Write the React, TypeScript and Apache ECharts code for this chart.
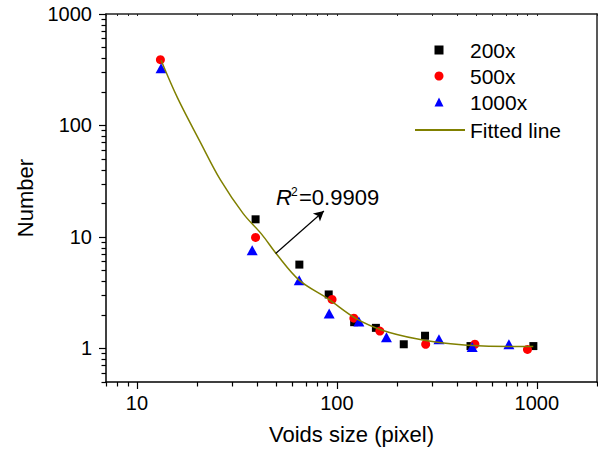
import React, { useEffect, useRef } from "react";
import * as echarts from "echarts";

const FONT = "'Liberation Sans', Arial, Helvetica, sans-serif";

// 200x (black squares)
const x200 = [39.2, 64.9, 91, 122, 156.7, 216, 276, 466, 961];
const y200 = [14.4, 5.65, 3.05, 1.72, 1.53, 1.09, 1.3, 1.05, 1.05];

// 500x (red circles)
const x500 = [13.1, 39.2, 94.6, 121.6, 164, 278, 490, 898];
const y500 = [389, 9.9, 2.75, 1.87, 1.43, 1.09, 1.09, 0.98];

// 1000x (blue triangles)
const x1000 = [13.2, 37.7, 64.8, 91.5, 128.8, 177, 324, 475, 725];
const y1000 = [326, 7.6, 4.08, 2.06, 1.74, 1.26, 1.21, 1.03, 1.09];

// Fitted line
const xFit = [13.2, 16, 20.7, 26.2, 34, 42, 50, 65, 90, 125, 170, 250, 370, 540, 960];
const yFit = [385, 175, 71.4, 32.3, 16.2, 10.6, 7.0, 4.08, 2.8, 1.85, 1.45, 1.22, 1.1, 1.05, 1.04];

// Annotation arrow (data coords)
const arrowFrom = [49.4, 7.1];
const arrowTo = [86.1, 17.1];
const r2Text = "=0.9909";

// Axis ticks
const xMajor = [10, 100, 1000];
const xMinor = [7, 8, 9, 20, 30, 40, 50, 60, 70, 80, 90, 200, 300, 400, 500, 600, 700, 800, 900, 2000];
const yMajor = [1, 10, 100, 1000];
const yMinor = [0.5, 0.6, 0.7, 0.8, 0.9, 2, 3, 4, 5, 6, 7, 8, 9, 20, 30, 40, 50, 60, 70, 80, 90, 200, 300, 400, 500, 600, 700, 800, 900];

const X_MIN = 7, X_MAX = 2000, Y_MIN = 0.5, Y_MAX = 1000;

const zip = (xs: number[], ys: number[]) => xs.map((x, i) => [x, ys[i]]);

export default function App() {
  const ref = useRef<HTMLDivElement>(null);
  useEffect(() => {
    if (!ref.current) return;
    const chart = echarts.init(ref.current, null, { renderer: "svg" });
    const axisLine = { show: true, lineStyle: { color: "#000", width: 1.5 } };
    const tickStyle = { color: "#000", width: 1.2 };
    const fmt = (v: number) => String(Math.round(v));
    const baseX = { type: "log", logBase: 10, min: X_MIN, max: X_MAX, splitLine: { show: false } };
    const baseY = { type: "log", logBase: 10, min: Y_MIN, max: Y_MAX, splitLine: { show: false } };
    const legendText = { fontSize: 21, color: "#000", fontFamily: FONT };
    chart.setOption({
      animation: false,
      backgroundColor: "#fff",
      textStyle: { fontFamily: FONT },
      grid: { left: 106, top: 14, right: 1, bottom: 75, containLabel: false, outerBoundsMode: "none" },
      legend: [
        {
          orient: "vertical",
          left: 434.5,
          top: 39.5,
          padding: 0,
          itemWidth: 9,
          itemHeight: 9,
          itemGap: 5,
          textStyle: { ...legendText, padding: [0, 0, 0, 21.5] },
          data: ["200x", "500x", "1000x"],
        },
        {
          orient: "vertical",
          left: 414,
          top: 119.5,
          padding: 0,
          itemWidth: 50,
          itemHeight: 9,
          itemGap: 5,
          textStyle: legendText,
          data: [{ name: "Fitted line", itemStyle: { opacity: 0 } }],
        },
      ],
      xAxis: [
        {
          ...baseX,
          position: "bottom",
          axisLine,
          axisTick: { show: true, inside: false, length: 7, customValues: xMajor, lineStyle: tickStyle },
          axisLabel: { show: true, customValues: xMajor, formatter: fmt, fontSize: 20, color: "#000", margin: 11, fontFamily: FONT },
          name: "Voids size (pixel)",
          nameLocation: "middle",
          nameGap: 41,
          nameTextStyle: { fontSize: 22, color: "#000", fontFamily: FONT },
        },
        {
          ...baseX,
          position: "bottom",
          axisLine: { show: false },
          axisTick: { show: true, inside: false, length: 4.5, customValues: xMinor, lineStyle: tickStyle },
          axisLabel: { show: false },
        },
        {
          ...baseX,
          position: "top",
          axisLine: { show: true, lineStyle: { color: "#222", width: 1.5 } },
          axisTick: { show: true, inside: true, length: 2, customValues: [...xMajor, ...xMinor], lineStyle: { color: "#222", width: 1 } },
          axisLabel: { show: false },
        },
      ],
      yAxis: [
        {
          ...baseY,
          position: "left",
          axisLine,
          axisTick: { show: true, inside: false, length: 7, customValues: yMajor, lineStyle: tickStyle },
          axisLabel: { show: true, customValues: yMajor, formatter: fmt, fontSize: 20, color: "#000", margin: 14, fontFamily: FONT },
          name: "Number",
          nameLocation: "middle",
          nameGap: 68,
          nameTextStyle: { fontSize: 22, color: "#000", fontFamily: FONT },
        },
        {
          ...baseY,
          position: "left",
          axisLine: { show: false },
          axisTick: { show: true, inside: false, length: 4.5, customValues: yMinor, lineStyle: tickStyle },
          axisLabel: { show: false },
        },
        {
          ...baseY,
          position: "right",
          axisLine: { show: true, lineStyle: { color: "#222", width: 1.5 } },
          axisTick: { show: false },
          axisLabel: { show: false },
        },
      ],
      series: [
        {
          name: "200x",
          type: "scatter",
          symbol: "rect",
          symbolSize: 8,
          itemStyle: { color: "#000", opacity: 1 },
          data: zip(x200, y200),
        },
        {
          name: "500x",
          type: "scatter",
          symbol: "circle",
          symbolSize: 9,
          itemStyle: { color: "#ff0000", opacity: 1 },
          data: zip(x500, y500),
        },
        {
          name: "1000x",
          type: "scatter",
          symbol: "triangle",
          symbolSize: [11, 10],
          itemStyle: { color: "#0000ff", opacity: 1 },
          data: zip(x1000, y1000),
        },
        {
          name: "Fitted line",
          type: "line",
          smooth: 0.35,
          showSymbol: false,
          symbol: "none",
          lineStyle: { color: "#808000", width: 1.5 },
          itemStyle: { color: "#808000" },
          data: zip(xFit, yFit),
          markLine: {
            silent: true,
            symbol: ["none", "arrow"],
            symbolSize: [8, 10],
            label: { show: false },
            emphasis: { disabled: true },
            lineStyle: { color: "#000", width: 1.2, type: "solid" },
            data: [[{ coord: arrowFrom }, { coord: arrowTo }]],
          },
        },
      ],
      graphic: [
        {
          type: "text",
          left: 276,
          top: 186,
          style: { text: "R", fontSize: 22, fontStyle: "italic", fontFamily: FONT, fill: "#000" },
        },
        {
          type: "text",
          left: 291,
          top: 186,
          style: { text: "2", fontSize: 12, fontFamily: FONT, fill: "#000" },
        },
        {
          type: "text",
          left: 299,
          top: 186,
          style: { text: r2Text, fontSize: 22, fontFamily: FONT, fill: "#000" },
        },
      ],
    } as any);
    return () => chart.dispose();
  }, []);
  return (
    <div
      ref={ref}
      style={{ position: "absolute", left: 0, top: 0, width: 598, height: 457 }}
    />
  );
}
